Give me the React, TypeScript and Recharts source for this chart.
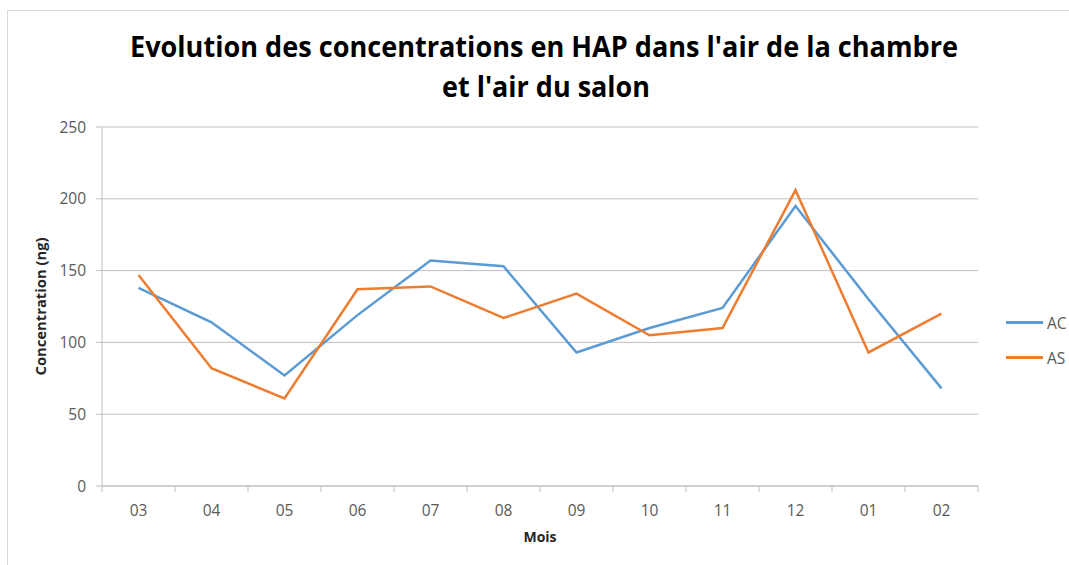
import { LineChart, Line, XAxis, YAxis, CartesianGrid, Legend, Customized } from "recharts"

const months = ["03", "04", "05", "06", "07", "08", "09", "10", "11", "12", "01", "02"]
const acValues = [138, 114, 77, 119, 157, 153, 93, 110, 124, 195, 130, 68]
const asValues = [147, 82, 61, 137, 139, 117, 134, 105, 110, 206, 93, 120]
const yTicks = [0, 50, 100, 150, 200, 250]

const titleLine1 = "Evolution des concentrations en HAP dans l'air de la chambre"
const titleLine2 = "et l'air du salon"

const WIDTH = 1069
const HEIGHT = 565
const PLOT_LEFT = 102
const PLOT_RIGHT = 978
const PLOT_TOP = 127
const PLOT_BOTTOM = 486
const BAND = (PLOT_RIGHT - PLOT_LEFT) / months.length
const FONT = "'Open Sans', 'Noto Sans', sans-serif"
const AXIS_COLOR = "#bfbfbf"
const TEXT_COLOR = "#595959"

const data = months.map((m, i) => ({ mois: m, AC: acValues[i], AS: asValues[i] }))

function MonthTick(props: any) {
  const { x, payload, index } = props
  const last = index === months.length - 1
  return (
    <g>
      <line x1={x - BAND / 2} x2={x - BAND / 2} y1={PLOT_BOTTOM} y2={PLOT_BOTTOM + 6} stroke={AXIS_COLOR} />
      {last && (
        <line x1={x + BAND / 2} x2={x + BAND / 2} y1={PLOT_BOTTOM} y2={PLOT_BOTTOM + 6} stroke={AXIS_COLOR} />
      )}
      <text x={x} y={PLOT_BOTTOM + 30} textAnchor="middle" fill={TEXT_COLOR} fontSize={15.5} fontFamily={FONT}>
        {payload.value}
      </text>
    </g>
  )
}

function Titles() {
  return (
    <g fontFamily={FONT} fontWeight="bold" fill="#000">
      <text x={544} y={57} textAnchor="middle" fontSize={28} textLength={828} lengthAdjust="spacingAndGlyphs">
        {titleLine1}
      </text>
      <text x={546} y={97} textAnchor="middle" fontSize={28} textLength={208} lengthAdjust="spacingAndGlyphs">
        {titleLine2}
      </text>
      <text
        x={0}
        y={0}
        transform={`translate(46, ${(PLOT_TOP + PLOT_BOTTOM) / 2}) rotate(-90)`}
        textAnchor="middle"
        fontSize={14}
        fill="#262626"
        textLength={138}
        lengthAdjust="spacingAndGlyphs"
      >
        Concentration (ng)
      </text>
      <text x={540} y={542} textAnchor="middle" fontSize={14} fill="#262626">
        Mois
      </text>
    </g>
  )
}

function LegendContent(props: any) {
  const { payload } = props
  return (
    <div style={{ fontFamily: FONT, fontSize: 15.5, color: TEXT_COLOR }}>
      {payload.map((entry: any) => (
        <div key={entry.value} style={{ display: "flex", alignItems: "center", height: 35 }}>
          <div style={{ width: 37, height: 3, background: entry.color, marginRight: 4 }} />
          <span>{entry.value}</span>
        </div>
      ))}
    </div>
  )
}

export default function App() {
  return (
    <div style={{ position: "absolute", left: 0, top: 0, width: WIDTH, height: HEIGHT, overflow: "hidden", background: "#fff" }}>
      <div style={{ position: "absolute", left: 7, top: 10, width: 1100, height: 600, border: "1px solid #d9d9d9" }} />
      <LineChart
        width={WIDTH}
        height={HEIGHT}
        data={data}
        margin={{ top: PLOT_TOP, right: WIDTH - PLOT_RIGHT, bottom: HEIGHT - PLOT_BOTTOM - 30, left: PLOT_LEFT - 60 }}
      >
        <CartesianGrid vertical={false} stroke={AXIS_COLOR} strokeWidth={1} />
        <XAxis
          dataKey="mois"
          scale="band"
          height={30}
          stroke={AXIS_COLOR}
          tickLine={false}
          tick={<MonthTick />}
          interval={0}
        />
        <YAxis
          width={60}
          domain={[0, 250]}
          ticks={yTicks}
          stroke={AXIS_COLOR}
          tickSize={6}
          tickMargin={10}
          tick={{ fill: TEXT_COLOR, fontSize: 15.5, fontFamily: FONT }}
        />
        <Legend
          layout="horizontal"
          verticalAlign="middle"
          align="center"
          wrapperStyle={{ left: 1006, top: 305, width: 63 }}
          content={<LegendContent />}
        />
        <Line type="linear" dataKey="AC" stroke="#5b9bd5" strokeWidth={2.5} dot={false} isAnimationActive={false} />
        <Line type="linear" dataKey="AS" stroke="#ed7d31" strokeWidth={2.5} dot={false} isAnimationActive={false} />
        <Customized component={<Titles />} />
      </LineChart>
    </div>
  )
}
